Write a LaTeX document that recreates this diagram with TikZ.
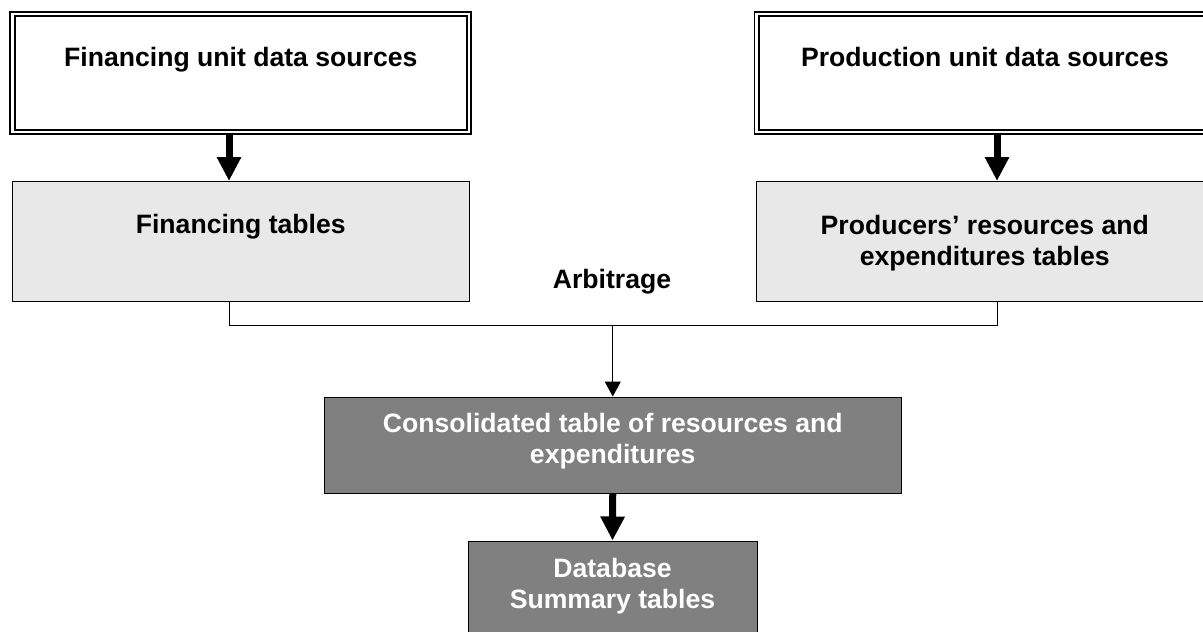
\documentclass[tikz,border=0pt]{standalone}
\usepackage{fontspec}
\setmainfont{Liberation Sans}
\usetikzlibrary{arrows.meta}
\definecolor{lightfill}{HTML}{E8E8E8}
\definecolor{darkfill}{HTML}{808080}

\begin{document}
\begin{tikzpicture}[x=0.5pt, y=-0.5pt,
  every node/.style={font=\fontsize{13.3}{15.5}\selectfont\bfseries, align=center, inner sep=0pt},
  srcbox/.style={draw, double, line width=0.9pt, double distance=1.3pt, minimum width=228.25pt, text height=26.5pt, text depth=32.5pt},
  tabbox/.style={draw, fill=lightfill, line width=0.5pt, minimum width=228.25pt},
  darkbox/.style={draw, fill=darkfill, text=white, line width=0.5pt},
  bigarrow/.style={line width=3.5pt, -{Triangle[width=11.5pt, length=12pt]}},
  link/.style={line width=0.5pt, -{Triangle[width=8pt, length=7.5pt]}}]
\useasboundingbox (0,0) rectangle (1203,631);
\node[srcbox] (fsrc) at (240.75,73) {Financing unit data sources};
\node[srcbox] (psrc) at (985,73) {Production unit data sources};
\node[tabbox, text height=25.75pt, text depth=34pt] (ftab) at (240.75,241.25) {Financing tables};
\node[tabbox, text height=41.75pt, text depth=18pt] (ptab) at (984.75,241.25) {Producers' resources and\\expenditures tables};
\node[anchor=base] (arb) at (612,288) {Arbitrage};
\node[darkbox, minimum width=288.25pt, text height=33pt, text depth=15pt] (cons) at (612.75,445) {Consolidated table of resources and\\expenditures};
\node[darkbox, minimum width=144.5pt, text height=33.5pt, text depth=15pt] (db) at (612.5,589.5) {Database\\Summary tables};
\coordinate (fj) at (229,325);
\coordinate (pj) at (997,325);
\draw[bigarrow] (fsrc.south -| fj) -- (ftab.north -| fj);
\draw[bigarrow] (psrc.south -| pj) -- (ptab.north -| pj);
\draw[line width=0.5pt] (ftab.south -| fj) -- (fj) -- (pj) -- (ptab.south -| pj);
\draw[link] (cons.north |- fj) -- (cons.north);
\draw[bigarrow] (cons.south) -- (db.north);
\end{tikzpicture}
\end{document}
